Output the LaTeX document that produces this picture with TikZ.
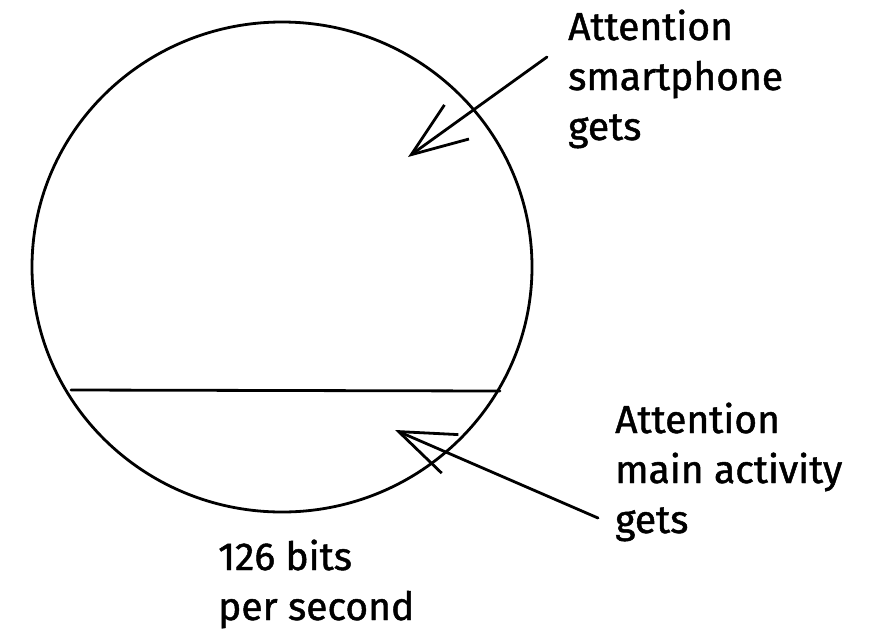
\documentclass[tikz,border=0pt]{standalone}
\usepackage{fontspec}
\setmainfont{Fira Sans}
\newfontfamily\handfont{Fira Sans}[FakeBold=1.2]
\usetikzlibrary{arrows.meta,shapes.geometric}
\tikzset{
  sketch/.style={line width=2.8pt, line cap=round, line join=round},
  pointer/.style={sketch, -{Straight Barb[length=56pt,width=42pt,line width=2.8pt]}},
  label/.style={align=left, anchor=base west, inner sep=0pt, font=\handfont\fontsize{39}{50}\selectfont}
}
\begin{document}
\begin{tikzpicture}[x=1pt,y=-1pt]
\useasboundingbox (0,0) rectangle (872,638);
\node[sketch, draw, ellipse, minimum width=500pt, minimum height=490pt, inner sep=0pt] (c) at (282,267) {};
\coordinate (l1) at (71,390);
\coordinate (l2) at (500,391);
\draw[sketch] (l1) -- (l2);
\node[label] (t1) at (568,140) {Attention\\smartphone\\gets};
\node[label] (t2) at (615,533) {Attention\\main activity\\gets};
\node[label] (t3) at (218,620) {126 bits\\per second};
\coordinate (a1s) at (547,57);
\coordinate (a1e) at (408,157);
\coordinate (a2s) at (598,518);
\coordinate (a2e) at (395,430);
\draw[pointer] (a1s) -- (a1e);
\draw[pointer] (a2s) -- (a2e);
\end{tikzpicture}
\end{document}
